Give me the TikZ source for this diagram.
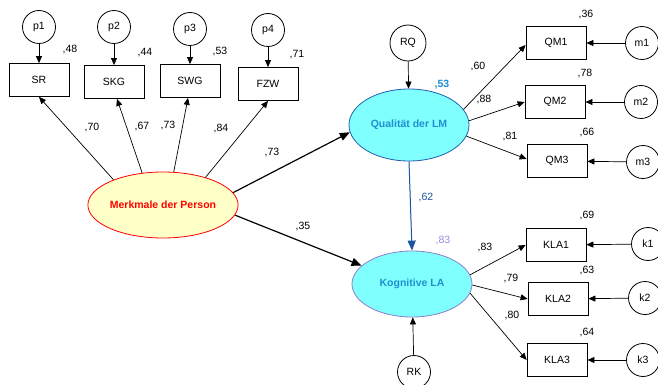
\documentclass[tikz,border=0pt]{standalone}
\usepackage{fontspec}
\setmainfont{Liberation Sans}
\usetikzlibrary{shapes.geometric,arrows.meta,calc}
\definecolor{qlfill}{HTML}{80FFFF}
\definecolor{qlborder}{HTML}{2060B0}
\definecolor{qltext}{HTML}{1E8FD0}
\definecolor{klborder}{HTML}{8A80C8}
\definecolor{lightpurple}{HTML}{9090E0}
\definecolor{pathblue}{HTML}{1F55A0}
\definecolor{mpfill}{HTML}{FFFFC8}
\begin{document}
\begin{tikzpicture}[x=1pt,y=-1pt,
  font=\fontsize{10.5}{12}\selectfont,
  obs/.style={draw,line width=0.8pt,minimum width=60pt,minimum height=33pt,inner sep=0pt},
  err/.style={draw,circle,line width=0.8pt,minimum size=33pt,inner sep=0pt},
  lbl/.style={inner sep=0pt},
  sm/.style={-{Triangle[length=7pt,width=6pt]},line width=0.7pt},
  big/.style={-{Triangle[length=10pt,width=8pt]},line width=1.2pt},
  lat/.style={draw,ellipse,inner sep=0pt,font=\fontsize{10.5}{12}\selectfont\bfseries}
]
\useasboundingbox (0,0) rectangle (658,385);

% left indicators
\node[err] (p1) at (39,27) {p1};
\node[err] (p2) at (114,27) {p2};
\node[err] (p3) at (190,29) {p3};
\node[err] (p4) at (268,30) {p4};
\node[obs] (sr) at (39,80) {SR};
\node[obs] (skg) at (114,82) {SKG};
\node[obs] (swg) at (190,81) {SWG};
\node[obs] (fzw) at (268,84) {FZW};

% latent variables
\node[lat,fill=mpfill,draw=red,text=red,line width=0.8pt,minimum width=116pt,minimum height=66pt] (mp) at (163,205) {Merkmale der Person};
\node[lat,fill=qlfill,draw=qlborder,text=qltext,line width=0.8pt,minimum width=120pt,minimum height=72pt] (ql) at (409,125) {Qualität der LM};
\node[lat,fill=qlfill,draw=klborder,text=qltext,line width=0.8pt,minimum width=120pt,minimum height=66pt] (kl) at (412,284) {Kognitive LA};
\node[err,minimum size=36pt] (rq) at (408,43) {RQ};
\node[err] (rk) at (414,372) {RK};

% right indicators
\node[obs] (qm1) at (556,43) {QM1};
\node[obs] (qm2) at (555,102) {QM2};
\node[obs] (qm3) at (557,161) {QM3};
\node[err] (m1) at (642,43) {m1};
\node[err] (m2) at (641,102) {m2};
\node[err] (m3) at (643,162) {m3};
\node[obs] (kla1) at (556,245) {KLA1};
\node[obs] (kla2) at (558,299) {KLA2};
\node[obs] (kla3) at (557,360) {KLA3};
\node[err] (k1) at (648,244) {k1};
\node[err] (k2) at (645,298) {k2};
\node[err] (k3) at (643,360) {k3};

% error arrows
\draw[sm] (p1) -- (sr);
\draw[sm] (p2) -- (skg);
\draw[sm] (p3) -- (swg);
\draw[sm] (p4) -- (fzw);
\draw[sm] (m1) -- (qm1);
\draw[sm] (m2) -- (qm2);
\draw[sm] (m3) -- (qm3);
\draw[sm] (k1) -- (kla1);
\draw[sm] (k2) -- (kla2);
\draw[sm] (k3) -- (kla3);
\draw[sm] (rq) -- (ql);
\draw[sm] (rk) -- (kl);

% loadings of Merkmale
\draw[sm] (mp.153) -- (sr.south);
\draw[sm] (mp.123) -- ($(skg.south)+(3,0)$);
\draw[sm] (mp.72) -- ($(swg.south)+(-2,0)$);
\draw[sm] (mp.33) -- (fzw.south);

% structural paths
\draw[big] (mp.10) -- (ql.187);
\draw[big] (mp.-8) -- (kl.160);
\draw[-{Triangle[length=10pt,width=8pt]},line width=1pt,draw=pathblue,fill=pathblue] (ql.south) -- (kl.north);

% loadings right
\draw[sm] (ql.16) -- ($(qm1.west)+(0,2)$);
\draw[sm] (ql.4) -- (qm2.west);
\draw[sm] (ql.-11) -- ($(qm3.west)+(0,-2)$);
\draw[sm] (kl.9) -- (kla1.west);
\draw[sm] (kl.-1) -- (kla2.west);
\draw[sm] (kl.-9) -- (kla3.west);

% labels
\node[lbl] (l48) at (70,50) {,48};
\node[lbl] (l44) at (145,53) {,44};
\node[lbl] (l53a) at (220,52) {,53};
\node[lbl] (l71) at (297,55) {,71};
\node[lbl] (l70) at (92,128) {,70};
\node[lbl] (l67) at (142,127) {,67};
\node[lbl] (l73a) at (168,126) {,73};
\node[lbl] (l84) at (221,129) {,84};
\node[lbl] (l73b) at (272,153) {,73};
\node[lbl] (l35) at (303,227) {,35};
\node[lbl,text=qltext,font=\fontsize{10.5}{12}\selectfont\bfseries] (l53b) at (442,85) {,53};
\node[lbl,text=pathblue] (l62) at (426,198) {,62};
\node[lbl,text=lightpurple] (l83a) at (443,241) {,83};
\node[lbl] (l60) at (478,67) {,60};
\node[lbl] (l88) at (484,100) {,88};
\node[lbl] (l81) at (510,137) {,81};
\node[lbl] (l36) at (586,15) {,36};
\node[lbl] (l78) at (585,74) {,78};
\node[lbl] (l66) at (587,133) {,66};
\node[lbl] (l83b) at (485,248) {,83};
\node[lbl] (l79) at (511,279) {,79};
\node[lbl] (l80) at (512,316) {,80};
\node[lbl] (l69) at (587,216) {,69};
\node[lbl] (l63) at (587,271) {,63};
\node[lbl] (l64) at (587,333) {,64};
\end{tikzpicture}
\end{document}
